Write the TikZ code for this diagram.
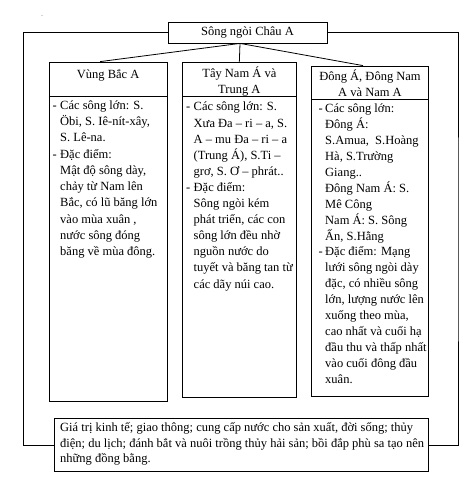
\documentclass[tikz,border=0pt]{standalone}
\usepackage{fontspec}
\setmainfont{Liberation Serif}
\newcommand{\ind}{\hspace*{7.5pt}}
\newcommand{\indr}{\hspace*{6.5pt}}
\newcommand{\dsh}{\makebox[7.5pt][l]{-}}
\newcommand{\dshr}{\makebox[6.5pt][l]{-}}
\begin{document}
\begin{tikzpicture}[x=1pt,y=-1pt,
  box/.style={draw, line width=0.8pt, inner sep=0, rectangle},
  txt/.style={inner sep=0, anchor=north west, align=left, font=\fontsize{12.5}{15.9}\selectfont},
  hdr/.style={inner sep=0, anchor=north, align=center, font=\fontsize{12.5}{15.2}\selectfont},
  conn/.style={line width=0.8pt}]
\useasboundingbox (0,0) rectangle (469,490);
% small dot
\node[inner sep=0, font=\fontsize{6}{6}\selectfont] (dot) at (42,16) {.};
% boxes
\node[box, minimum width=159pt, minimum height=21pt, font=\fontsize{12.5}{15}\selectfont] (top) at (247.5,32.5) {Sông ngòi Châu A};
\node[box, minimum width=117.7pt, minimum height=339pt] (b1) at (108.15,231.5) {};
\node[box, minimum width=113.3pt, minimum height=335pt] (b2) at (239.35,229.5) {};
\node[box, minimum width=116.6pt, minimum height=330pt] (b3) at (370,231) {};
\node[box, minimum width=374pt, minimum height=53pt] (bot) at (241.3,445.2) {};
% dividers
\draw[conn] (b1.west |- 0,96) -- (b1.east |- 0,96);
\draw[conn] (b2.west |- 0,96) -- (b2.east |- 0,96);
\draw[conn] (b3.west |- 0,99) -- (b3.east |- 0,99);
% headers
\node[hdr] (h1) at (108.15,68) {\strut Vùng Bắc A};
\node[hdr] (h2) at (239.35,67) {\strut Tây Nam Á và\\Trung A};
\node[hdr] (h3) at (370,70) {\strut Đông Á, Đông Nam\\A và Nam A};
% bodies
\node[txt, font=\fontsize{12.5}{16.3}\selectfont] (t1) at (52.5,97.5) {\strut\dsh Các sông lớn: S.\\
\ind Öbi, S. Iê-nít-xây,\\
\ind S. Lê-na.\\
\dsh Đặc điểm:\\
\ind Mật độ sông dày,\\
\ind chảy từ Nam lên\\
\ind Bắc, có lũ băng lớn\\
\ind vào mùa xuân ,\\
\ind nước sông đóng\\
\ind băng về mùa đông.};
\node[txt, font=\fontsize{12.5}{16.1}\selectfont] (t2) at (186,99.5) {\strut\dsh Các sông lớn: S.\\
\ind Xưa Đa – ri – a, S.\\
\ind A – mu Đa – ri – a\\
\ind (Trung Á), S.Ti –\\
\ind grơ, S. Ơ – phrát..\\
\dsh Đặc điểm:\\
\ind Sông ngòi kém\\
\ind phát triển, các con\\
\ind sông lớn đều nhờ\\
\ind nguồn nước do\\
\ind tuyết và băng tan từ\\
\ind các dãy núi cao.};
\node[txt] (t3) at (318.5,101.5) {\strut\dshr Các sông lớn:\\
\indr Đông Á:\\
\indr S.Amua,\ \ S.Hoàng\\
\indr Hà, S.Trường\\
\indr Giang..\\
\indr Đông Nam Á: S.\\
\indr Mê Công\\
\indr Nam Á: S. Sông\\
\indr Ấn, S.Hằng\\
\dshr Đặc điểm: Mạng\\
\indr lưới sông ngòi dày\\
\indr đặc, có nhiều sông\\
\indr lớn, lượng nước lên\\
\indr xuống theo mùa,\\
\indr cao nhất và cuối hạ\\
\indr đầu thu và thấp nhất\\
\indr vào cuối đông đầu\\
\indr xuân.};
\node[txt, font=\fontsize{12.5}{15.5}\selectfont] (t4) at (60,420.5) {\strut Giá trị kinh tế; giao thông; cung cấp nước cho sản xuất, đời sống; thủy\\
điện; du lịch; đánh bắt và nuôi trồng thủy hải sản; bồi đắp phù sa tạo nên\\
những đồng bằng.};
% connectors
\coordinate (L) at (23.5,240);
\coordinate (R) at (458,240);
\draw[conn] ([xshift=-7.5pt]top.south) -- ([xshift=-8pt]b1.north);
\draw[conn] ([xshift=-7.5pt]top.south) -- (b2.north);
\draw[conn] ([xshift=-7.5pt]top.south) -- ([xshift=-7pt]b3.north);
\draw[conn] (top.west) -| (L) |- (bot.west);
\draw[conn] (top.east) -| (R) |- (bot.east);
\end{tikzpicture}
\end{document}
